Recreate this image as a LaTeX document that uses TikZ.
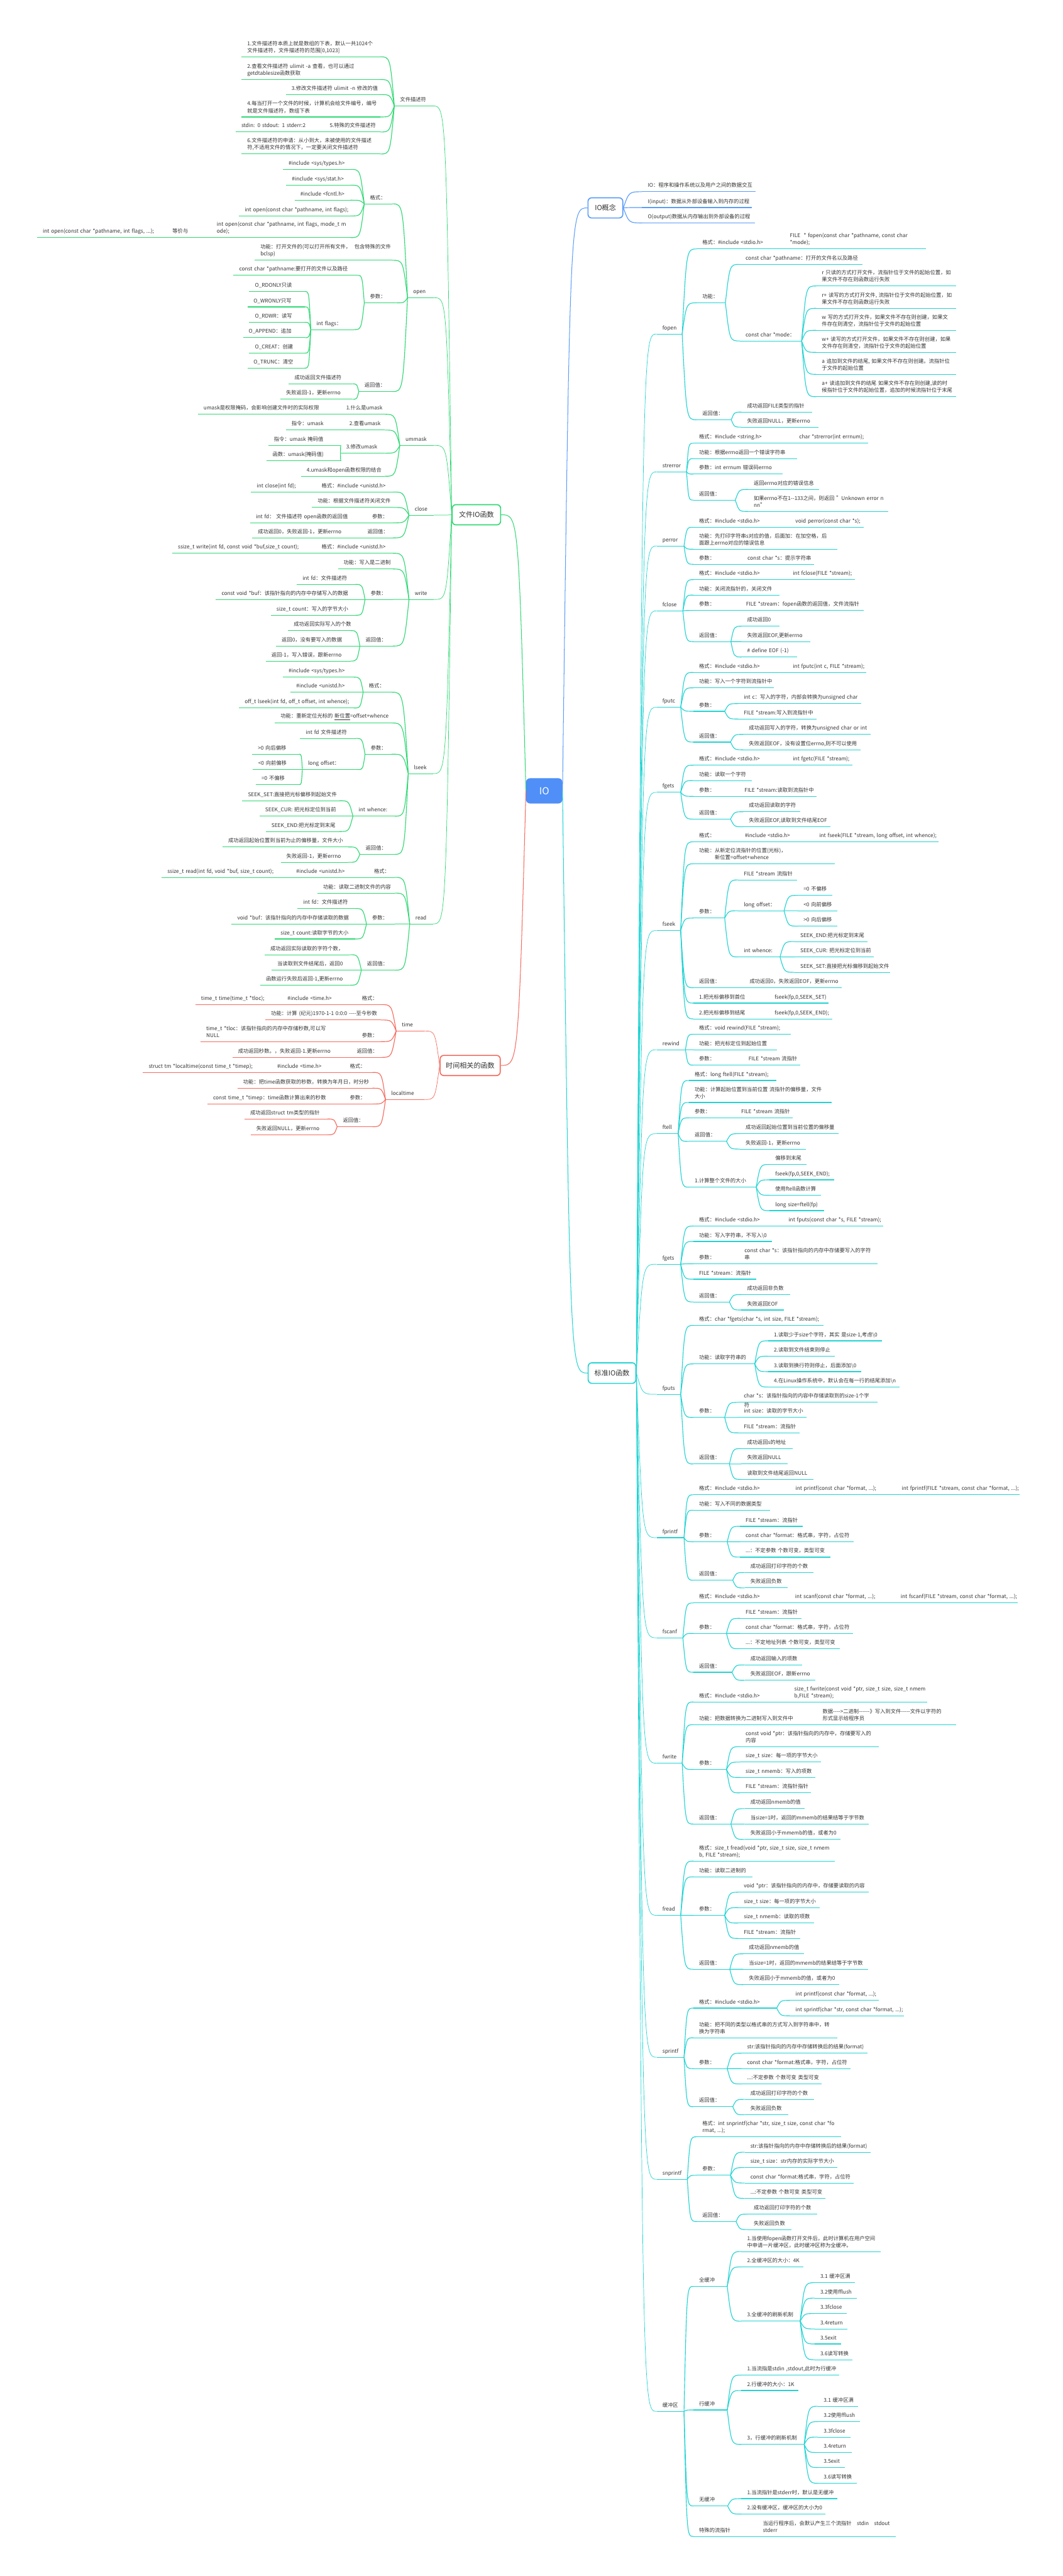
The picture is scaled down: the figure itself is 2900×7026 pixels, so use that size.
\documentclass[tikz,border=0pt]{standalone}
\usepackage{fontspec}
\setmainfont{Noto Sans CJK SC}
\usepackage{tikz}
\usetikzlibrary{calc}
\definecolor{txt}{HTML}{333333}
\definecolor{blueline}{HTML}{5A9CF8}
\definecolor{iofill}{HTML}{4F8FF7}
\definecolor{cyanline}{HTML}{22D3D3}
\definecolor{greenline}{HTML}{2FD873}
\definecolor{redline}{HTML}{F46B5E}
\colorlet{bc}{cyanline}
\tikzset{
  leaf/.style={anchor=south west, inner xsep=0.15cm, inner ysep=0.055cm, align=left, text=txt,
    font=\fontsize{4.05pt}{5.4pt}\selectfont},
  uline/.style={draw=bc, line width=0.55pt},
  link/.style={draw=bc, line width=0.55pt},
  trunk/.style={line width=0.35pt},
  root/.style={line width=0.5pt},
  topic/.style={draw=bc, line width=0.8pt, rounded corners=0.1cm, fill=white, text=txt,
    font=\fontsize{5.4pt}{6.5pt}\selectfont, inner sep=0pt},
}
% leaf: name, left x, right x, y of the line, text
\newcommand\leaf[5]{%
  \pgfmathsetmacro\tw{(#3-#2)*0.01-0.3}%
  \node[leaf, text width=\tw cm] (#1) at (#2,#4) {\begin{tabular}[b]{@{}l@{}}#5\end{tabular}};
  \draw[uline] (#1.south west) -- (#1.south east);}
\newcommand\lk[3][]{\draw[link,#1] (#2) .. controls ($(#2 |- #3)!.3!(#3)$) .. (#3);}
\newcommand\kids[2]{\foreach \ch in {#2}{\lk{#1.south east}{\ch.south west}}}
\newcommand\lkids[2]{\foreach \ch in {#2}{\lk{#1.south west}{\ch.south east}}}

\begin{document}
\begin{tikzpicture}[x=0.01cm, y=-0.01cm]
  \fill[white] (0,0) rectangle (2900,7026);
  \useasboundingbox (0,0) rectangle (2900,7026);

  \node[topic, draw=iofill, fill=iofill, text=white, minimum width=0.97cm, minimum height=0.66cm,
    font=\fontsize{7.5pt}{9pt}\selectfont] (io) at (1485,2157) {IO};

  % IO概念
  \colorlet{bc}{blueline}
  \node[topic, minimum width=0.95cm, minimum height=0.55cm] (ioc) at (1652,567) {IO概念};
  \lk[root]{io.east}{ioc.west}
  \leaf{ioc1}{1752}{2060}{523}{IO：程序和操作系统以及用户之间的数据交互}
  \leaf{ioc2}{1752}{2050}{566}{I(input)：数据从外部设备输入到内存的过程}
  \leaf{ioc3}{1752}{2058}{608}{O(output)数据从内存输出到外部设备的过程}
  \foreach \ch in {ioc1,ioc2,ioc3}{\lk{ioc.east}{\ch.south west}}

  % 标准IO函数
  \colorlet{bc}{cyanline}
  \node[topic, minimum width=1.3cm, minimum height=0.56cm] (sio) at (1670,3745) {标准IO函数};
  \lk[root]{io.east}{sio.west}
  \leaf{fop}{1792}{1860}{911}{fopen}
  \leaf{ser}{1792}{1872}{1287}{strerror}
  \leaf{per}{1792}{1865}{1489}{perror}
  \leaf{fcl}{1792}{1862}{1666}{fclose}
  \leaf{fpc}{1792}{1856}{1929}{fputc}
  \leaf{fgc}{1792}{1856}{2161}{fgets}
  \leaf{fsk}{1792}{1856}{2538}{fseek}
  \leaf{rwd}{1792}{1869}{2863}{rewind}
  \leaf{ftl}{1792}{1849}{3092}{ftell}
  \leaf{fgs}{1792}{1856}{3448}{fgets}
  \leaf{fps}{1792}{1856}{3803}{fputs}
  \leaf{fpf}{1792}{1865}{4194}{fprintf}
  \leaf{fsc}{1792}{1862}{4467}{fscanf}
  \leaf{fwr}{1792}{1860}{4809}{fwrite}
  \leaf{frd}{1792}{1856}{5224}{fread}
  \leaf{spf}{1792}{1865}{5611}{sprintf}
  \leaf{snp}{1792}{1874}{5944}{snprintf}
  \leaf{buf}{1792}{1865}{6577}{缓冲区}
  \foreach \ch in {fop,ser,per,fcl,fpc,fgc,fsk,rwd,ftl,fgs,fps,fpf,fsc,fwr,frd,spf,snp,buf}{\lk[trunk]{sio.east}{\ch.south west}}

  % fopen
  \leaf{fop1}{1901}{2140}{679}{格式：\#include <stdio.h>}
  \leaf{fop1a}{2140}{2526}{679}{FILE \ * fopen(const char *pathname, const char\\{}*mode);}
  \leaf{fop2}{1901}{1978}{826}{功能：}
  \leaf{fop2a}{2019}{2352}{721}{const char *pathname：打开的文件名以及路径}
  \leaf{fop2b}{2019}{2186}{930}{const char *mode：}
  \leaf{fm1}{2227}{2607}{780}{r 只读的方式打开文件，流指针位于文件的起始位置，如\\果文件不存在则函数运行失败}
  \leaf{fm2}{2227}{2607}{841}{r+ 读写的方式打开文件, 流指针位于文件的起始位置，如\\果文件不存在则函数运行失败}
  \leaf{fm3}{2227}{2607}{901}{w 写的方式打开文件，如果文件不存在则创建，如果文\\件存在则清空，流指针位于文件的起始位置}
  \leaf{fm4}{2227}{2607}{961}{w+ 读写的方式打开文件，如果文件不存在则创建，如果\\文件存在则清空，流指针位于文件的起始位置}
  \leaf{fm5}{2227}{2607}{1021}{a 追加到文件的结尾, 如果文件不存在则创建。流指针位\\于文件的起始位置}
  \leaf{fm6}{2227}{2607}{1082}{a+ 读追加到文件的结尾 如果文件不存在则创建,读的时\\候指针位于文件的起始位置，追加的时候流指针位于末尾}
  \leaf{fop3}{1901}{1994}{1145}{返回值：}
  \leaf{fop3a}{2023}{2214}{1124}{成功返回FILE类型的指针}
  \leaf{fop3b}{2023}{2232}{1165}{失败返回NULL，更新errno}
  \kids{fop}{fop1,fop2,fop3}
  \kids{fop1}{fop1a}
  \kids{fop2}{fop2a,fop2b}
  \kids{fop2b}{fm1,fm2,fm3,fm4,fm5,fm6}
  \kids{fop3}{fop3a,fop3b}

  % strerror
  \leaf{ser1}{1892}{2165}{1209}{格式：\#include <string.h>}
  \leaf{ser1a}{2165}{2367}{1209}{char *strerror(int errnum);}
  \leaf{ser2}{1892}{2173}{1251}{功能：根据errno返回一个错误字符串}
  \leaf{ser3}{1892}{2134}{1293}{参数：int errnum 错误码errno}
  \leaf{ser4}{1892}{2005}{1364}{返回值：}
  \leaf{ser4a}{2041}{2234}{1335}{返回errno对应的错误信息}
  \leaf{ser4b}{2041}{2422}{1395}{如果errno不在1-{}-133之间，则返回 "Unknown error n\\nn"}
  \kids{ser}{ser1,ser2,ser3,ser4}
  \kids{ser1}{ser1a}
  \kids{ser4}{ser4a,ser4b}

  % perror
  \leaf{per1}{1892}{2155}{1438}{格式：\#include <stdio.h>}
  \leaf{per1a}{2155}{2355}{1438}{void perror(const char *s);}
  \leaf{per2}{1892}{2283}{1498}{功能：先打印字符串s对应的值，后面加：在加空格，后\\面跟上errno对应的错误信息}
  \leaf{per3}{1892}{2024}{1539}{参数：}
  \leaf{per3a}{2024}{2220}{1539}{const char *s：提示字符串}
  \kids{per}{per1,per2,per3}
  \kids{per1}{per1a}
  \kids{per3}{per3a}

  % fclose
  \leaf{fcl1}{1892}{2148}{1581}{格式：\#include <stdio.h>}
  \leaf{fcl1a}{2148}{2331}{1581}{int fclose(FILE *stream);}
  \leaf{fcl2}{1892}{2125}{1623}{功能：关闭流指针的，关闭文件}
  \leaf{fcl3}{1892}{2020}{1665}{参数：}
  \leaf{fcl3a}{2020}{2355}{1665}{FILE *stream：fopen函数的返回值，文件流指针}
  \leaf{fcl4}{1892}{1993}{1750}{返回值：}
  \leaf{fcl4a}{2023}{2125}{1708}{成功返回0}
  \leaf{fcl4b}{2023}{2209}{1750}{失败返回EOF,更新errno}
  \leaf{fcl4c}{2023}{2174}{1792}{\# define EOF (-1)}
  \kids{fcl}{fcl1,fcl2,fcl3,fcl4}
  \kids{fcl1}{fcl1a}
  \kids{fcl3}{fcl3a}
  \kids{fcl4}{fcl4a,fcl4b,fcl4c}

  % fputc
  \leaf{fpc1}{1892}{2148}{1834}{格式：\#include <stdio.h>}
  \leaf{fpc1a}{2148}{2363}{1834}{int fputc(int c, FILE *stream);}
  \leaf{fpc2}{1892}{2110}{1876}{功能：写入一个字符到流指针中}
  \leaf{fpc3}{1892}{1976}{1940}{参数：}
  \leaf{fpc3a}{2014}{2349}{1919}{int c：写入的字符，内部会转换为unsigned char}
  \leaf{fpc3b}{2014}{2227}{1961}{FILE *stream:写入到流指针中}
  \leaf{fpc4}{1892}{1992}{2024}{返回值：}
  \leaf{fpc4a}{2028}{2374}{2003}{成功返回写入的字符，转换为unsigned char or int}
  \leaf{fpc4b}{2028}{2347}{2045}{失败返回EOF，没有设置位errno,则不可以使用}
  \kids{fpc}{fpc1,fpc2,fpc3,fpc4}
  \kids{fpc1}{fpc1a}
  \kids{fpc3}{fpc3a,fpc3b}
  \kids{fpc4}{fpc4a,fpc4b}

  % fgetc
  \leaf{fgc1}{1892}{2148}{2087}{格式：\#include <stdio.h>}
  \leaf{fgc1a}{2148}{2325}{2087}{int fgetc(FILE *stream);}
  \leaf{fgc2}{1892}{2050}{2129}{功能：读取一个字符}
  \leaf{fgc3}{1892}{2016}{2172}{参数：}
  \leaf{fgc3a}{2016}{2227}{2172}{FILE *stream:读取到流指针中}
  \leaf{fgc4}{1892}{1992}{2234}{返回值：}
  \leaf{fgc4a}{2028}{2182}{2214}{成功返回读取的字符}
  \leaf{fgc4b}{2028}{2265}{2255}{失败返回EOF,读取到文件结尾EOF}
  \kids{fgc}{fgc1,fgc2,fgc3,fgc4}
  \kids{fgc1}{fgc1a}
  \kids{fgc3}{fgc3a}
  \kids{fgc4}{fgc4a,fgc4b}

  % fseek
  \leaf{fsk1}{1892}{2017}{2296}{格式：}
  \leaf{fsk1a}{2017}{2220}{2296}{\#include <stdio.h>}
  \leaf{fsk1b}{2220}{2560}{2296}{int fseek(FILE *stream, long offset, int whence);}
  \leaf{fsk2}{1892}{2277}{2356}{功能：从新定位流指针的位置(光标)，\\\phantom{功能：}新位置=offset+whence}
  \leaf{fsk3}{1892}{1976}{2504}{参数：}
  \leaf{fsk3a}{2014}{2173}{2400}{FILE *stream 流指针}
  \leaf{fsk3b}{2014}{2138}{2484}{long offset：}
  \leaf{fsk3b1}{2177}{2270}{2442}{=0 不偏移}
  \leaf{fsk3b2}{2177}{2284}{2484}{<0 向前偏移}
  \leaf{fsk3b3}{2177}{2284}{2526}{>0 向后偏移}
  \leaf{fsk3c}{2014}{2127}{2610}{int whence:}
  \leaf{fsk3c1}{2168}{2365}{2568}{SEEK\_END:把光标定到末尾}
  \leaf{fsk3c2}{2168}{2383}{2610}{SEEK\_CUR: 把光标定位到当前}
  \leaf{fsk3c3}{2168}{2428}{2652}{SEEK\_SET:直接把光标偏移到起始文件}
  \leaf{fsk4}{1892}{2030}{2694}{返回值：}
  \leaf{fsk4a}{2030}{2295}{2694}{成功返回0，失败返回EOF，更新errno}
  \leaf{fsk5}{1892}{2098}{2736}{1.把光标偏移到首位}
  \leaf{fsk5a}{2098}{2260}{2736}{fseek(fp,0,SEEK\_SET)}
  \leaf{fsk6}{1892}{2098}{2779}{2.把光标偏移到结尾}
  \leaf{fsk6a}{2098}{2270}{2779}{fseek(fp,0,SEEK\_END);}
  \kids{fsk}{fsk1,fsk2,fsk3,fsk4,fsk5,fsk6}
  \kids{fsk1}{fsk1a}
  \kids{fsk1a}{fsk1b}
  \kids{fsk3}{fsk3a,fsk3b,fsk3c}
  \kids{fsk3b}{fsk3b1,fsk3b2,fsk3b3}
  \kids{fsk3c}{fsk3c1,fsk3c2,fsk3c3}
  \kids{fsk4}{fsk4a}
  \kids{fsk5}{fsk5a}
  \kids{fsk6}{fsk6a}

  % rewind
  \leaf{rwd1}{1892}{2156}{2821}{格式：void rewind(FILE *stream);}
  \leaf{rwd2}{1892}{2118}{2863}{功能：把光标定位到起始位置}
  \leaf{rwd3}{1892}{2027}{2905}{参数：}
  \leaf{rwd3a}{2027}{2182}{2905}{FILE *stream 流指针}
  \kids{rwd}{rwd1,rwd2,rwd3}
  \kids{rwd3}{rwd3a}

  % ftell
  \leaf{ftl1}{1880}{2117}{2947}{格式：long ftell(FILE *stream);}
  \leaf{ftl2}{1880}{2268}{3007}{功能：计算起始位置到当前位置 流指针的偏移量，文件\\大小}
  \leaf{ftl3}{1880}{2007}{3049}{参数：}
  \leaf{ftl3a}{2007}{2162}{3049}{FILE *stream 流指针}
  \leaf{ftl4}{1880}{1981}{3113}{返回值：}
  \leaf{ftl4a}{2019}{2286}{3092}{成功返回起始位置到当前位置的偏移量}
  \leaf{ftl4b}{2019}{2197}{3134}{失败返回-1，更新errno}
  \leaf{ftl5}{1880}{2062}{3238}{1.计算整个文件的大小}
  \leaf{ftl5a}{2100}{2200}{3176}{偏移到末尾}
  \leaf{ftl5b}{2100}{2275}{3218}{fseek(fp,0,SEEK\_END);}
  \leaf{ftl5c}{2100}{2239}{3260}{使用ftell函数计算}
  \leaf{ftl5d}{2100}{2248}{3302}{long size=ftell(fp)}
  \kids{ftl}{ftl1,ftl2,ftl3,ftl4,ftl5}
  \kids{ftl3}{ftl3a}
  \kids{ftl4}{ftl4a,ftl4b}
  \kids{ftl5}{ftl5a,ftl5b,ftl5c,ftl5d}

  % fgets (写入字符串)
  \leaf{fgs1}{1892}{2136}{3344}{格式：\#include <stdio.h>}
  \leaf{fgs1a}{2136}{2408}{3344}{int fputs(const char *s, FILE *stream);}
  \leaf{fgs2}{1892}{2105}{3386}{功能：写入字符串，不写入\textbackslash 0}
  \leaf{fgs3}{1892}{2016}{3447}{参数：}
  \leaf{fgs3a}{2016}{2393}{3447}{const char *s：该指针指向的内存中存储要写入的字符\\串}
  \leaf{fgs4}{1892}{2062}{3489}{FILE *stream：流指针}
  \leaf{fgs5}{1892}{1989}{3551}{返回值：}
  \leaf{fgs5a}{2023}{2155}{3531}{成功返回非负数}
  \leaf{fgs5b}{2023}{2138}{3573}{失败返回EOF}
  \kids{fgs}{fgs1,fgs2,fgs3,fgs4,fgs5}
  \kids{fgs1}{fgs1a}
  \kids{fgs3}{fgs3a}
  \kids{fgs5}{fgs5a,fgs5b}

  % fputs (读取字符串)
  \leaf{fps1}{1892}{2245}{3615}{格式：char *fgets(char *s, int size, FILE *stream);}
  \leaf{fps2}{1892}{2058}{3720}{功能：读取字符串的}
  \leaf{fps2a}{2096}{2405}{3657}{1.读取少于size个字符，其实 是size-1,考虑\textbackslash 0}
  \leaf{fps2b}{2096}{2277}{3699}{2.读取到文件结束则停止}
  \leaf{fps2c}{2096}{2348}{3741}{3.读取到换行符则停止，后面添加\textbackslash 0}
  \leaf{fps2d}{2096}{2454}{3783}{4.在Linux操作系统中，默认会在每一行的结尾添加\textbackslash n}
  \leaf{fps3}{1892}{1976}{3866}{参数：}
  \leaf{fps3a}{2014}{2393}{3825}{char *s：该指针指向的内容中存储读取到的size-1个字}
  \node[leaf, anchor=west, inner sep=0pt] (fps3s) at (2030,3833) {符};
  \leaf{fps3b}{2014}{2200}{3866}{int size：读取的字节大小}
  \leaf{fps3c}{2014}{2180}{3908}{FILE *stream：流指针}
  \leaf{fps4}{1892}{1989}{3993}{返回值：}
  \leaf{fps4a}{2023}{2161}{3951}{成功返回s的地址}
  \leaf{fps4b}{2023}{2148}{3993}{失败返回NULL}
  \leaf{fps4c}{2023}{2218}{4035}{读取到文件结尾返回NULL}
  \kids{fps}{fps1,fps2,fps3,fps4}
  \kids{fps2}{fps2a,fps2b,fps2c,fps2d}
  \kids{fps3}{fps3a,fps3b,fps3c}
  \kids{fps4}{fps4a,fps4b,fps4c}

  % fprintf
  \leaf{fpf1}{1892}{2155}{4077}{格式：\#include <stdio.h>}
  \leaf{fpf1a}{2155}{2445}{4077}{int printf(const char *format, ...);}
  \leaf{fpf1b}{2445}{2781}{4077}{int fprintf(FILE *stream, const char *format, ...);}
  \leaf{fpf2}{1892}{2100}{4119}{功能：写入不同的数据类型}
  \leaf{fpf3}{1892}{1983}{4205}{参数：}
  \leaf{fpf3a}{2019}{2189}{4163}{FILE *stream：流指针}
  \leaf{fpf3b}{2019}{2328}{4205}{const char *format：格式串，字符，占位符}
  \leaf{fpf3c}{2019}{2264}{4247}{...：不定参数 个数可变，类型可变}
  \leaf{fpf4}{1892}{1998}{4310}{返回值：}
  \leaf{fpf4a}{2032}{2218}{4289}{成功返回打印字符的个数}
  \leaf{fpf4b}{2032}{2148}{4331}{失败返回负数}
  \kids{fpf}{fpf1,fpf2,fpf3,fpf4}
  \kids{fpf1}{fpf1a}
  \kids{fpf1a}{fpf1b}
  \kids{fpf3}{fpf3a,fpf3b,fpf3c}
  \kids{fpf4}{fpf4a,fpf4b}

  % fscanf
  \leaf{fsc1}{1892}{2154}{4372}{格式：\#include <stdio.h>}
  \leaf{fsc1a}{2154}{2442}{4372}{int scanf(const char *format, ...);}
  \leaf{fsc1b}{2442}{2775}{4372}{int fscanf(FILE *stream, const char *format, ...);}
  \leaf{fsc2}{1892}{1981}{4455}{参数：}
  \leaf{fsc2a}{2019}{2186}{4414}{FILE *stream：流指针}
  \leaf{fsc2b}{2019}{2327}{4455}{const char *format：格式串，字符，占位符}
  \leaf{fsc2c}{2019}{2290}{4497}{...：不定地址列表 个数可变，类型可变}
  \leaf{fsc3}{1892}{1996}{4561}{返回值：}
  \leaf{fsc3a}{2032}{2188}{4541}{成功返回输入的项数}
  \leaf{fsc3b}{2032}{2223}{4583}{失败返回EOF，跟新errno}
  \kids{fsc}{fsc1,fsc2,fsc3}
  \kids{fsc1}{fsc1a}
  \kids{fsc1a}{fsc1b}
  \kids{fsc2}{fsc2a,fsc2b,fsc2c}
  \kids{fsc3}{fsc3a,fsc3b}

  % fwrite
  \leaf{fwr1}{1892}{2152}{4642}{格式：\#include <stdio.h>}
  \leaf{fwr1a}{2152}{2529}{4642}{size\_t fwrite(const void *ptr, size\_t size, size\_t nmem\\b,FILE *stream);}
  \leaf{fwr2}{1892}{2229}{4704}{功能：把数据转换为二进制写入到文件中}
  \leaf{fwr2a}{2229}{2607}{4704}{数据-{}-{}-{}->二进制-{}-{}-{}-{}-{}-》写入到文件-{}-{}-{}-{}-文件以字符的\\形式显示给程序员}
  \leaf{fwr3}{1892}{1981}{4826}{参数：}
  \leaf{fwr3a}{2019}{2397}{4764}{const void *ptr：该指针指向的内存中，存储要写入的\\内容}
  \leaf{fwr3b}{2019}{2238}{4806}{size\_t size：每一项的字节大小}
  \leaf{fwr3c}{2019}{2223}{4848}{size\_t nmemb：写入的项数}
  \leaf{fwr3d}{2019}{2212}{4890}{FILE *stream：流指针指针}
  \leaf{fwr4}{1892}{1993}{4975}{返回值：}
  \leaf{fwr4a}{2032}{2195}{4933}{成功返回nmemb的值}
  \leaf{fwr4b}{2032}{2370}{4975}{当size=1时，返回的mmemb的结果结等于字节数}
  \leaf{fwr4c}{2032}{2292}{5017}{失败返回小于mmemb的值，或者为0}
  \kids{fwr}{fwr1,fwr2,fwr3,fwr4}
  \kids{fwr1}{fwr1a}
  \kids{fwr2}{fwr2a}
  \kids{fwr3}{fwr3a,fwr3b,fwr3c,fwr3d}
  \kids{fwr4}{fwr4a,fwr4b,fwr4c}

  % fread
  \leaf{frd1}{1892}{2277}{5076}{格式：size\_t fread(void *ptr, size\_t size, size\_t nmem\\b, FILE *stream);}
  \leaf{frd2}{1892}{2052}{5119}{功能：读取二进制的}
  \leaf{frd3}{1892}{1976}{5224}{参数：}
  \leaf{frd3a}{2014}{2369}{5161}{void *ptr：该指针指向的内存中，存储要读取的内容}
  \leaf{frd3b}{2014}{2236}{5203}{size\_t size：每一项的字节大小}
  \leaf{frd3c}{2014}{2220}{5245}{size\_t nmemb：读取的项数}
  \leaf{frd3d}{2014}{2182}{5287}{FILE *stream：流指针}
  \leaf{frd4}{1892}{1990}{5371}{返回值：}
  \leaf{frd4a}{2028}{2193}{5329}{成功返回nmemb的值}
  \leaf{frd4b}{2028}{2367}{5371}{当size=1时，返回的mmemb的结果结等于字节数}
  \leaf{frd4c}{2028}{2289}{5413}{失败返回小于mmemb的值，或者为0}
  \kids{frd}{frd1,frd2,frd3,frd4}
  \kids{frd3}{frd3a,frd3b,frd3c,frd3d}
  \kids{frd4}{frd4a,frd4b,frd4c}

  % sprintf
  \leaf{spf1}{1892}{2118}{5477}{格式：\#include <stdio.h>}
  \leaf{spf1a}{2155}{2397}{5456}{int printf(const char *format, ...);}
  \leaf{spf1b}{2155}{2465}{5498}{int sprintf(char *str, const char *format, ...);}
  \leaf{spf2}{1892}{2284}{5558}{功能：把不同的类型以格式串的方式写入到字符串中，转\\换为字符串}
  \leaf{spf3}{1892}{1983}{5642}{参数：}
  \leaf{spf3a}{2023}{2365}{5600}{str:该指针指向的内存中存储转换后的结果(format)}
  \leaf{spf3b}{2023}{2320}{5642}{const char *format:格式串，字符，占位符}
  \leaf{spf3c}{2023}{2241}{5684}{...:不定参数 个数可变 类型可变}
  \leaf{spf4}{1892}{1998}{5746}{返回值：}
  \leaf{spf4a}{2032}{2220}{5726}{成功返回打印字符的个数}
  \leaf{spf4b}{2032}{2150}{5768}{失败返回负数}
  \kids{spf}{spf1,spf2,spf3,spf4}
  \kids{spf1}{spf1a,spf1b}
  \kids{spf3}{spf3a,spf3b,spf3c}
  \kids{spf4}{spf4a,spf4b}

  % snprintf
  \leaf{snp1}{1901}{2293}{5828}{格式：int snprintf(char *str, size\_t size, const char *fo\\rmat, ...);}
  \leaf{snp2}{1901}{1992}{5933}{参数：}
  \leaf{snp2a}{2032}{2374}{5870}{str:该指针指向的内存中存储转换后的结果(format)}
  \leaf{snp2b}{2032}{2283}{5912}{size\_t size：str内存的实际字节大小}
  \leaf{snp2c}{2032}{2328}{5954}{const char *format:格式串，字符，占位符}
  \leaf{snp2d}{2032}{2250}{5996}{...:不定参数 个数可变 类型可变}
  \leaf{snp3}{1901}{2007}{6059}{返回值：}
  \leaf{snp3a}{2041}{2229}{6039}{成功返回打印字符的个数}
  \leaf{snp3b}{2041}{2159}{6081}{失败返回负数}
  \kids{snp}{snp1,snp2,snp3}
  \kids{snp2}{snp2a,snp2b,snp2c,snp2d}
  \kids{snp3}{snp3a,snp3b}

  % 缓冲区
  \leaf{buf1}{1892}{1983}{6236}{全缓冲}
  \leaf{buf1a}{2023}{2401}{6141}{1.当使用fopen函数打开文件后，此时计算机在用户空间\\中申请一片缓冲区，此时缓冲区称为全缓冲。}
  \leaf{buf1b}{2023}{2191}{6183}{2.全缓冲区的大小：4K}
  \leaf{buf1c}{2023}{2182}{6331}{3.全缓冲的刷新机制}
  \leaf{buf1c1}{2223}{2331}{6226}{3.1 缓冲区满}
  \leaf{buf1c2}{2223}{2336}{6268}{3.2使用fflush}
  \leaf{buf1c3}{2223}{2309}{6310}{3.3fclose}
  \leaf{buf1c4}{2223}{2311}{6352}{3.4return}
  \leaf{buf1c5}{2223}{2293}{6393}{3.5exit}
  \leaf{buf1c6}{2223}{2325}{6436}{3.6读写转换}
  \leaf{buf2}{1892}{1983}{6573}{行缓冲}
  \leaf{buf2a}{2023}{2288}{6478}{1.当流指是stdin ,stdout,此时为行缓冲}
  \leaf{buf2b}{2023}{2177}{6520}{2.行缓冲的大小：1K}
  \leaf{buf2c}{2023}{2193}{6667}{3，行缓冲的刷新机制}
  \leaf{buf2c1}{2232}{2340}{6563}{3.1 缓冲区满}
  \leaf{buf2c2}{2232}{2345}{6605}{3.2使用fflush}
  \leaf{buf2c3}{2232}{2320}{6647}{3.3fclose}
  \leaf{buf2c4}{2232}{2322}{6689}{3.4return}
  \leaf{buf2c5}{2232}{2304}{6730}{3.5exit}
  \leaf{buf2c6}{2232}{2336}{6773}{3.6读写转换}
  \leaf{buf3}{1892}{1984}{6835}{无缓冲}
  \leaf{buf3a}{2023}{2283}{6815}{1.当流指针是stderr时，默认是无缓冲}
  \leaf{buf3b}{2023}{2251}{6857}{2.没有缓冲区，缓冲区的大小为0}
  \leaf{buf4}{1892}{2066}{6918}{特殊的流指针}
  \leaf{buf4a}{2066}{2443}{6918}{当运行程序后，会默认产生三个流指针 \ \ stdin \ \ stdout\\stderr}
  \kids{buf}{buf1,buf2,buf3,buf4}
  \kids{buf1}{buf1a,buf1b,buf1c}
  \kids{buf1c}{buf1c1,buf1c2,buf1c3,buf1c4,buf1c5,buf1c6}
  \kids{buf2}{buf2a,buf2b,buf2c}
  \kids{buf2c}{buf2c1,buf2c2,buf2c3,buf2c4,buf2c5,buf2c6}
  \kids{buf3}{buf3a,buf3b}
  \kids{buf4}{buf4a}

  % 文件IO函数
  \colorlet{bc}{greenline}
  \node[topic, minimum width=1.32cm, minimum height=0.55cm] (fio) at (1300,1404) {文件IO函数};
  \lk[root]{io.west}{fio.east}
  \leaf{fd}{1076}{1180}{289}{文件描述符}
  \leaf{opn}{1112}{1183}{812}{open}
  \leaf{umk}{1091}{1183}{1215}{ummask}
  \leaf{cls}{1116}{1183}{1405}{close}
  \leaf{wrt}{1116}{1183}{1635}{write}
  \leaf{lsk}{1114}{1180}{2110}{lseek}
  \leaf{rd}{1118}{1180}{2520}{read}
  \foreach \ch in {fd,opn,umk,cls,wrt,lsk,rd}{\lk[trunk]{fio.west}{\ch.south east}}

  \leaf{fd1}{659}{1036}{155}{1.文件描述符本质上就是数组的下表，默认一共1024个\\文件描述符，文件描述符的范围[0,1023]}
  \leaf{fd2}{659}{1036}{217}{2.查看文件描述符 ulimit -a 查看，也可以通过\\ getdtablesize函数获取}
  \leaf{fd3}{780}{1036}{258}{3.修改文件描述符 ulimit -n 修改的值}
  \leaf{fd4}{659}{1036}{319}{4.每当打开一个文件的时候，计算机会给文件编号，编号\\就是文件描述符，数组下表}
  \leaf{fd5}{884}{1036}{360}{5.特殊的文件描述符}
  \leaf{fd5a}{643}{884}{360}{stdin: 0 stdout: 1 stderr:2}
  \leaf{fd6}{659}{1036}{420}{6.文件描述符的申请：从小到大，未被使用的文件描述\\符,不适用文件的情况下，一定要关闭文件描述符}
  \lkids{fd}{fd1,fd2,fd3,fd4,fd5,fd6}
  \lkids{fd5}{fd5a}

  % open
  \leaf{opn1}{994}{1069}{556}{格式：}
  \leaf{opn1a}{772}{955}{462}{\#include <sys/types.h>}
  \leaf{opn1b}{781}{955}{505}{\#include <sys/stat.h>}
  \leaf{opn1c}{804}{955}{546}{\#include <fcntl.h>}
  \leaf{opn1d}{652}{955}{589}{int open(const char *pathname, int flags);}
  \leaf{opn1e}{576}{955}{648}{int open(const char *pathname, int flags, mode\_t m\\ode);}
  \leaf{opn1f}{455}{576}{648}{等价与}
  \leaf{opn1g}{101}{455}{648}{int open(const char *pathname, int flags, ...);}
  \leaf{opn2}{695}{1069}{710}{功能：打开文件的(可以打开所有文件，\ \ 包含特殊的文件\\bclsp)}
  \leaf{opn3}{994}{1080}{826}{参数：}
  \leaf{opn3a}{637}{973}{751}{const char *pathname:要打开的文件以及路径}
  \leaf{opn3b}{848}{964}{899}{int flags：}
  \leaf{opn3b1}{680}{830}{795}{O\_RDONLY只读}
  \leaf{opn3b2}{676}{830}{837}{O\_WRONLY只写}
  \leaf{opn3b3}{680}{830}{879}{O\_RDWR：读写}
  \leaf{opn3b4}{663}{830}{921}{O\_APPEND：追加}
  \leaf{opn3b5}{680}{830}{963}{O\_CREAT：创建}
  \leaf{opn3b6}{676}{830}{1004}{O\_TRUNC：清空}
  \leaf{opn4}{979}{1069}{1068}{返回值：}
  \leaf{opn4a}{788}{960}{1047}{成功返回文件描述符}
  \leaf{opn4b}{765}{960}{1089}{失败返回-1，更新errno}
  \lkids{opn}{opn1,opn2,opn3,opn4}
  \lkids{opn1}{opn1a,opn1b,opn1c,opn1d,opn1e}
  \lkids{opn1e}{opn1f}
  \lkids{opn1f}{opn1g}
  \lkids{opn3}{opn3a,opn3b}
  \lkids{opn3b}{opn3b1,opn3b2,opn3b3,opn3b4,opn3b5,opn3b6}
  \lkids{opn4}{opn4a,opn4b}

  % umask
  \leaf{umk1}{929}{1049}{1130}{1.什么是umask}
  \leaf{umk1a}{540}{929}{1130}{umask是权限掩码，会影响创建文件时的实际权限}
  \leaf{umk2}{938}{1049}{1173}{2.查看umask}
  \leaf{umk2a}{780}{938}{1173}{指令：umask}
  \leaf{umk3}{929}{1049}{1236}{3.修改umask}
  \leaf{umk3a}{732}{929}{1215}{指令：umask 掩码值}
  \leaf{umk3b}{728}{929}{1257}{函数：umask(掩码值)}
  \leaf{umk4}{821}{1049}{1299}{4.umask和open函数权限的结合}
  \lkids{umk}{umk1,umk2,umk3,umk4}
  \lkids{umk1}{umk1a}
  \lkids{umk2}{umk2a}
  \lkids{umk3}{umk3a,umk3b}

  % close
  \leaf{cls1}{862}{1071}{1342}{格式：\#include <unistd.h>}
  \leaf{cls1a}{685}{862}{1342}{int close(int fd);}
  \leaf{cls2}{851}{1071}{1384}{功能：根据文件描述符关闭文件}
  \leaf{cls3}{1000}{1071}{1426}{参数：}
  \leaf{cls3a}{683}{1000}{1426}{int fd：\ 文件描述符 open函数的返回值}
  \leaf{cls4}{987}{1071}{1467}{返回值：}
  \leaf{cls4a}{688}{987}{1467}{成功返回0，失败返回-1，更新errno}
  \lkids{cls}{cls1,cls2,cls3,cls4}
  \lkids{cls1}{cls1a}
  \lkids{cls3}{cls3a}
  \lkids{cls4}{cls4a}

  % write
  \leaf{wrt1}{862}{1071}{1509}{格式：\#include <unistd.h>}
  \leaf{wrt1a}{470}{862}{1509}{ssize\_t write(int fd, const void *buf,size\_t count);}
  \leaf{wrt2}{922}{1071}{1552}{功能：写入是二进制}
  \leaf{wrt3}{996}{1071}{1635}{参数：}
  \leaf{wrt3a}{810}{969}{1594}{int fd：文件描述符}
  \leaf{wrt3b}{589}{996}{1635}{const void *buf：该指针指向的内存中存储写入的数据}
  \leaf{wrt3c}{739}{969}{1678}{size\_t count：写入的字节大小}
  \leaf{wrt4}{982}{1071}{1762}{返回值：}
  \leaf{wrt4a}{786}{955}{1720}{成功返回实际写入的个数}
  \leaf{wrt4b}{753}{982}{1762}{返回0，没有要写入的数据}
  \leaf{wrt4c}{725}{955}{1803}{返回-1，写入错误，跟新errno}
  \lkids{wrt}{wrt1,wrt2,wrt3,wrt4}
  \lkids{wrt1}{wrt1a}
  \lkids{wrt3}{wrt3a,wrt3b,wrt3c}
  \lkids{wrt4}{wrt4a,wrt4b,wrt4c}

  % lseek
  \leaf{lsk1}{991}{1067}{1888}{格式：}
  \leaf{lsk1a}{772}{964}{1847}{\#include <sys/types.h>}
  \leaf{lsk1b}{793}{991}{1888}{\#include <unistd.h>}
  \leaf{lsk1c}{652}{964}{1931}{off\_t lseek(int fd, off\_t offset, int whence);}
  \leaf{lsk2}{750}{1067}{1972}{功能：重新定位光标的 \underline{新位置}=offset+whence}
  \leaf{lsk3}{996}{1067}{2057}{参数：}
  \leaf{lsk3a}{819}{969}{2014}{int fd 文件描述符}
  \leaf{lsk3b}{825}{975}{2099}{long offset：}
  \leaf{lsk3b1}{688}{815}{2057}{>0 向后偏移}
  \leaf{lsk3b2}{689}{825}{2099}{<0 向前偏移}
  \leaf{lsk3b3}{698}{815}{2140}{=0 不偏移}
  \leaf{lsk4}{963}{1076}{2226}{int whence:}
  \leaf{lsk4a}{661}{925}{2184}{SEEK\_SET:直接把光标偏移到起始文件}
  \leaf{lsk4b}{708}{963}{2226}{SEEK\_CUR: 把光标定位到当前}
  \leaf{lsk4c}{725}{925}{2268}{SEEK\_END:把光标定到末尾}
  \leaf{lsk5}{982}{1076}{2330}{返回值：}
  \leaf{lsk5a}{607}{949}{2310}{成功返回起始位置到当前为止的偏移量，文件大小}
  \leaf{lsk5b}{766}{949}{2352}{失败返回-1，更新errno}
  \lkids{lsk}{lsk1,lsk2,lsk3,lsk4,lsk5}
  \lkids{lsk1}{lsk1a,lsk1b,lsk1c}
  \lkids{lsk3}{lsk3a,lsk3b}
  \lkids{lsk3b}{lsk3b1,lsk3b2,lsk3b3}
  \lkids{lsk4}{lsk4a,lsk4b,lsk4c}
  \lkids{lsk5}{lsk5a,lsk5b}

  % read
  \leaf{rd1}{1005}{1076}{2393}{格式：}
  \leaf{rd1a}{793}{1005}{2393}{\#include <unistd.h>}
  \leaf{rd1b}{441}{793}{2393}{ssize\_t read(int fd, void *buf, size\_t count);}
  \leaf{rd2}{866}{1076}{2436}{功能：读取二进制文件的内容}
  \leaf{rd3}{1000}{1076}{2520}{参数：}
  \leaf{rd3a}{812}{967}{2478}{int fd：文件描述符}
  \leaf{rd3b}{632}{1000}{2520}{void *buf：该指针指向的内存中存储读取的数据}
  \leaf{rd3c}{750}{967}{2561}{size\_t count:读取字节的大小}
  \leaf{rd4}{986}{1076}{2646}{返回值：}
  \leaf{rd4a}{722}{953}{2604}{成功返回实际读取的字符个数，}
  \leaf{rd4b}{741}{986}{2646}{当读取到文件结尾后，返回0}
  \leaf{rd4c}{710}{953}{2687}{函数运行失败后返回-1,更新errno}
  \lkids{rd}{rd1,rd2,rd3,rd4}
  \lkids{rd1}{rd1a}
  \lkids{rd1a}{rd1b}
  \lkids{rd3}{rd3a,rd3b,rd3c}
  \lkids{rd4}{rd4a,rd4b,rd4c}

  % 时间相关的函数
  \colorlet{bc}{redline}
  \node[topic, minimum width=1.64cm, minimum height=0.55cm] (tfn) at (1283,2906) {时间相关的函数};
  \lk[root]{io.west}{tfn.east}
  \leaf{tm}{1081}{1156}{2812}{time}
  \leaf{lt}{1052}{1156}{2999}{localtime}
  \foreach \ch in {tm,lt}{\lk[trunk]{tfn.west}{\ch.south east}}
  \leaf{tm1}{972}{1038}{2740}{格式：}
  \leaf{tm1a}{769}{972}{2740}{\#include <time.h>}
  \leaf{tm1b}{533}{769}{2740}{time\_t time(time\_t *tloc);}
  \leaf{tm2}{724}{1038}{2782}{功能：计算 (纪元)1970-1-1 0:0:0 -{}-{}-{}-至今秒数}
  \leaf{tm3}{972}{1038}{2841}{参数：}
  \leaf{tm3a}{547}{972}{2841}{time\_t *tloc：该指针指向的内存中存储秒数,可以写\\NULL}
  \leaf{tm4}{958}{1038}{2884}{返回值：}
  \leaf{tm4a}{634}{958}{2884}{成功返回秒数。，失败返回-1.更新errno}
  \lkids{tm}{tm1,tm2,tm3,tm4}
  \lkids{tm1}{tm1a}
  \lkids{tm1a}{tm1b}
  \lkids{tm3}{tm3a}
  \lkids{tm4}{tm4a}
  \leaf{lt1}{939}{1015}{2925}{格式：}
  \leaf{lt1a}{741}{939}{2925}{\#include <time.h>}
  \leaf{lt1b}{390}{741}{2925}{struct tm *localtime(const time\_t *timep);}
  \leaf{lt2}{648}{1015}{2968}{功能：把time函数获取的秒数，转换为年月日，时分秒}
  \leaf{lt3}{939}{1015}{3011}{参数：}
  \leaf{lt3a}{566}{939}{3011}{const time\_t *timep：time函数计算出来的秒数}
  \leaf{lt4}{920}{1015}{3073}{返回值：}
  \leaf{lt4a}{667}{892}{3052}{成功返回struct tm类型的指针}
  \leaf{lt4b}{684}{892}{3095}{失败返回NULL，更新errno}
  \lkids{lt}{lt1,lt2,lt3,lt4}
  \lkids{lt1}{lt1a}
  \lkids{lt1a}{lt1b}
  \lkids{lt3}{lt3a}
  \lkids{lt4}{lt4a,lt4b}
\end{tikzpicture}
\end{document}
